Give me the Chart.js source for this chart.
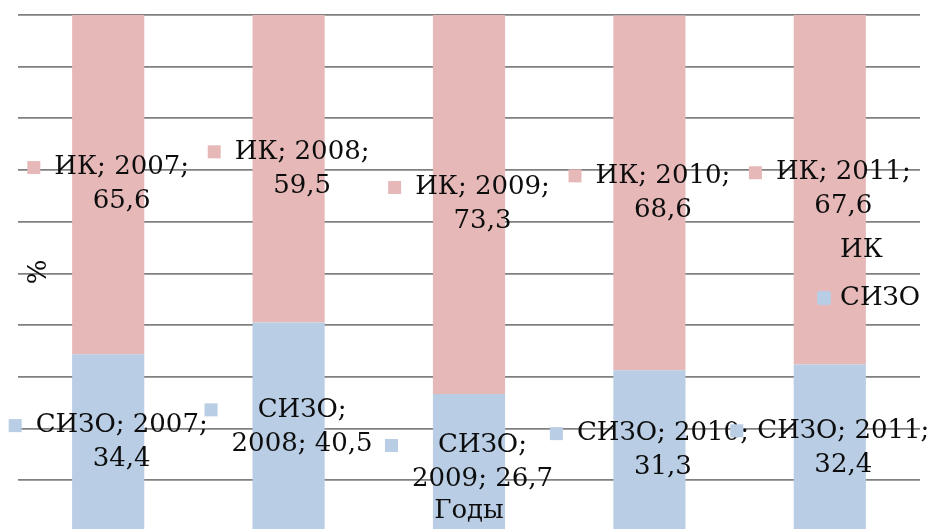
<!DOCTYPE html>
<html lang="ru">
<head>
<meta charset="utf-8">
<title>ИК и СИЗО, 2007–2011</title>
<script src="https://cdn.jsdelivr.net/npm/chart.js@4/dist/chart.umd.min.js"></script>
<style>
  html, body { margin: 0; padding: 0; overflow: hidden; background: #ffffff; }
  #wrap { position: relative; width: 933px; height: 560px; }
</style>
</head>
<body>
<div id="wrap"><canvas id="chart" width="933" height="560"></canvas></div>
<script>
// Shares (%) by year
const years = ['2007', '2008', '2009', '2010', '2011'];
const sizoShare = [34.4, 40.5, 26.7, 31.3, 32.4];
const ikShare = [65.6, 59.5, 73.3, 68.6, 67.6];
const yTicks = [0, 10, 20, 30, 40, 50, 60, 70, 80, 90, 100];

// How many label parts ("series", "year", "value") sit on the first line
const sizoBreak = [2, 1, 1, 2, 2];
const ikBreak = [2, 2, 2, 2, 2];

const PINK = '#E6B9B8';
const BLUE = '#B9CDE5';
const TEXT = '#0d0d0d';
const FONT_FAMILY = '"DejaVu Serif", "Liberation Serif", serif';
const FONT = '26px ' + FONT_FAMILY;
const LINE_H = 34;
const KEY = 13;
const KEY_GAP = 14;

const fmt = v => v.toFixed(1).replace('.', ',');

// Data labels with a legend key, centred in each stacked segment
const segmentLabels = {
  id: 'segmentLabels',
  afterDatasetsDraw(chart) {
    const ctx = chart.ctx;
    ctx.save();
    ctx.font = FONT;
    ctx.textBaseline = 'middle';
    ctx.textAlign = 'center';
    chart.data.datasets.forEach((ds, di) => {
      const meta = chart.getDatasetMeta(di);
      meta.data.forEach((bar, i) => {
        const p = bar.getProps(['x', 'y', 'base'], true);
        const parts = [ds.label, chart.data.labels[i], fmt(ds.data[i])];
        const k = ds.breakAfter[i];
        const lines = [parts.slice(0, k).join('; ') + ';', parts.slice(k).join('; ')];
        const textW = Math.max(...lines.map(l => ctx.measureText(l).width));
        const blockW = KEY + KEY_GAP + textW;
        const left = p.x - blockW / 2;
        const cy = (p.y + p.base) / 2;
        const y1 = cy - LINE_H / 2;
        ctx.fillStyle = ds.backgroundColor;
        ctx.fillRect(left, y1 - KEY / 2, KEY, KEY);
        ctx.fillStyle = TEXT;
        const tx = left + KEY + KEY_GAP + textW / 2;
        lines.forEach((l, li) => ctx.fillText(l, tx, y1 + li * LINE_H));
      });
    });
    ctx.restore();
  },
  afterDraw(chart) {
    const ctx = chart.ctx;
    const area = chart.chartArea;
    ctx.save();
    ctx.font = FONT;
    ctx.fillStyle = TEXT;
    ctx.textBaseline = 'middle';

    // axis titles
    ctx.textAlign = 'center';
    ctx.fillText('Годы', (area.left + area.right) / 2, 511);
    ctx.save();
    ctx.translate(39, 272);
    ctx.rotate(-Math.PI / 2);
    ctx.font = '26px ' + FONT_FAMILY;
    ctx.fillText('%', 0, 0);
    ctx.restore();

    // legend, top series first
    const entries = chart.data.datasets.slice().reverse();
    ctx.textAlign = 'left';
    entries.forEach((ds, j) => {
      const y = 250 + j * 48;
      ctx.fillStyle = ds.backgroundColor;
      ctx.beginPath();
      ctx.roundRect(817, y - 7, 14, 14, 3);
      ctx.fill();
      ctx.fillStyle = TEXT;
      ctx.fillText(ds.label, 840, y);
    });
    ctx.restore();
  }
};

new Chart(document.getElementById('chart'), {
  type: 'bar',
  data: {
    labels: years,
    datasets: [
      { label: 'СИЗО', data: sizoShare, backgroundColor: BLUE, breakAfter: sizoBreak },
      { label: 'ИК', data: ikShare, backgroundColor: PINK, breakAfter: ikBreak }
    ]
  },
  options: {
    responsive: false,
    animation: false,
    devicePixelRatio: 1,
    layout: { padding: { left: 18, right: 13, top: 15, bottom: 28 } },
    datasets: { bar: { categoryPercentage: 1, barPercentage: 0.4, borderWidth: 0 } },
    plugins: { legend: { display: false }, tooltip: { enabled: false } },
    scales: {
      x: { stacked: true, display: false },
      y: {
        stacked: true,
        min: 0,
        max: 100,
        afterBuildTicks: s => { s.ticks = yTicks.map(v => ({ value: v })); },
        afterFit: s => { s.width = 0; },
        ticks: { display: false },
        border: { display: false },
        grid: { color: '#808080', lineWidth: 1.8, drawTicks: false }
      }
    }
  },
  plugins: [segmentLabels]
});
</script>
</body>
</html>
